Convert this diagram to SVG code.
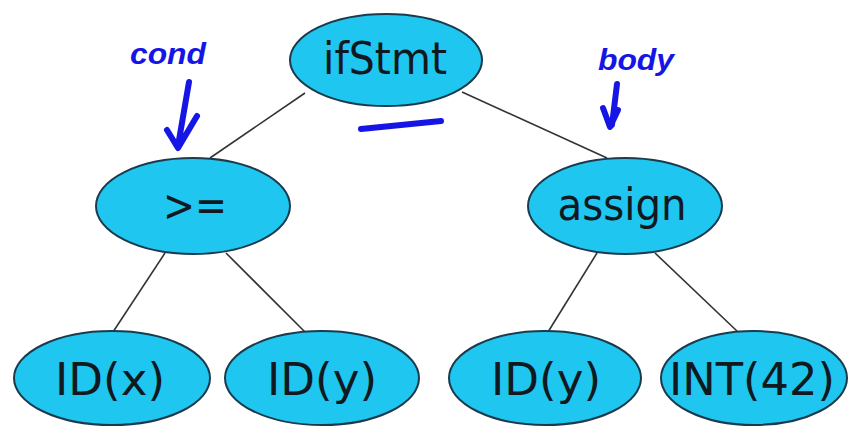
<svg xmlns="http://www.w3.org/2000/svg" width="852" height="428" viewBox="0 0 852 428">
<style>
.node ellipse{fill:#1fc6f0;stroke:#1b3b4c;stroke-width:2}
.node text{font-family:"DejaVu Sans",Verdana,sans-serif;font-size:44px;fill:#101820;text-anchor:middle}
.edge{stroke:#333;stroke-width:1.6;fill:none}
.ink{stroke:#1515e6;stroke-width:6;fill:none;stroke-linecap:round;stroke-linejoin:round}
.inktext{font-family:"Liberation Sans",sans-serif;font-weight:bold;font-style:italic;fill:#1515e6;font-size:30px}
</style>
<rect width="852" height="428" fill="#fff"/>
<g id="connectors">
<line class="edge" x1="305" y1="93" x2="210" y2="158"/>
<line class="edge" x1="462" y1="92" x2="607" y2="158"/>
<line class="edge" x1="165" y1="253" x2="113" y2="332"/>
<line class="edge" x1="226" y1="253" x2="305" y2="332"/>
<line class="edge" x1="597" y1="253" x2="548" y2="332"/>
<line class="edge" x1="655" y1="253" x2="738" y2="332"/>
</g>
<g id="ifStmt" class="node"><ellipse cx="386" cy="60" rx="96" ry="46"/><text x="385" y="74" textLength="124" lengthAdjust="spacingAndGlyphs">ifStmt</text></g>
<g id="ge" class="node"><ellipse cx="193" cy="206" rx="97" ry="48"/><text x="195" y="221" textLength="64" lengthAdjust="spacingAndGlyphs">&gt;=</text></g>
<g id="assign" class="node"><ellipse cx="625" cy="206" rx="97" ry="48"/><text x="622" y="220" textLength="129" lengthAdjust="spacingAndGlyphs">assign</text></g>
<g id="idx" class="node"><ellipse cx="112" cy="378" rx="98" ry="47"/><text x="110" y="395" textLength="110" lengthAdjust="spacingAndGlyphs">ID(x)</text></g>
<g id="idy1" class="node"><ellipse cx="322" cy="378" rx="97" ry="47"/><text x="322" y="395" textLength="110" lengthAdjust="spacingAndGlyphs">ID(y)</text></g>
<g id="idy2" class="node"><ellipse cx="545" cy="378" rx="96" ry="47"/><text x="546" y="395" textLength="110" lengthAdjust="spacingAndGlyphs">ID(y)</text></g>
<g id="int42" class="node"><ellipse cx="754" cy="378" rx="93" ry="47"/><text x="752" y="395" textLength="166" lengthAdjust="spacingAndGlyphs">INT(42)</text></g>
<g id="annotations">
<text class="inktext" x="130" y="64" textLength="76" lengthAdjust="spacingAndGlyphs">cond</text>
<path class="ink" d="M189 82 L178 146 M167 130 L178 148 L197 116"/>
<text class="inktext" x="598" y="70" textLength="76" lengthAdjust="spacingAndGlyphs">body</text>
<path class="ink" d="M617 84 L612 125 M603 108 L610 127 L618 110"/>
<path class="ink" d="M361 129 L441 121"/>
</g>
</svg>
